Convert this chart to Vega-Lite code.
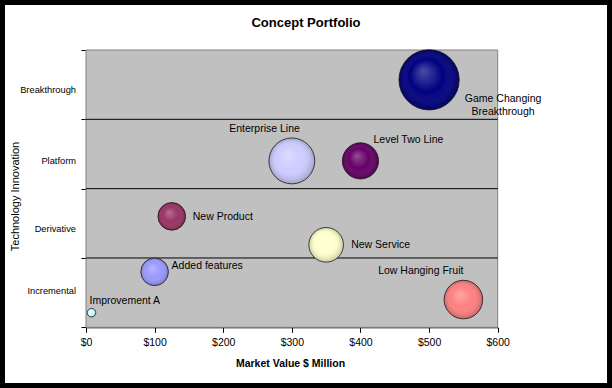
{
  "$schema": "https://vega.github.io/schema/vega-lite/v6.json",
  "width": 612,
  "height": 388,
  "autosize": {"type": "none"},
  "padding": 0,
  "background": "white",
  "config": {
    "view": {"fill": "white", "stroke": "black", "strokeWidth": 10},
    "font": "Liberation Sans",
    "text": {"font": "Liberation Sans", "color": "black"}
  },
  "title": {
    "text": "Concept Portfolio",
    "font": "Liberation Sans",
    "fontSize": 13,
    "fontWeight": "bold",
    "color": "black",
    "anchor": "middle",
    "frame": "group",
    "baseline": "middle",
    "offset": 0,
    "dy": 36
  },
  "layer": [
    {
      "data": {"values": [{"x0": 0, "x1": 600, "y0": 0, "y1": 4}]},
      "mark": {"type": "rect", "fill": "#C0C0C0", "stroke": "#808080", "strokeWidth": 1},
      "encoding": {
        "x": {"field": "x0", "type": "quantitative"},
        "x2": {"field": "x1"},
        "y": {"field": "y0", "type": "quantitative"},
        "y2": {"field": "y1"}
      }
    },
    {
      "data": {"values": [{"g": 1}, {"g": 2}, {"g": 3}]},
      "mark": {"type": "rule", "color": "black", "strokeWidth": 1},
      "encoding": {
        "y": {"field": "g", "type": "quantitative"},
        "x": {"datum": 0, "type": "quantitative"},
        "x2": {"datum": 600}
      }
    },
    {
      "data": {"values": [
        {"cat": "Breakthrough", "pos": 3.42},
        {"cat": "Platform", "pos": 2.4},
        {"cat": "Derivative", "pos": 1.42},
        {"cat": "Incremental", "pos": 0.52}
      ]},
      "mark": {"type": "text", "align": "right", "baseline": "middle", "fontSize": 9.3, "dx": -10},
      "encoding": {
        "y": {"field": "pos", "type": "quantitative"},
        "x": {"datum": 0, "type": "quantitative"},
        "text": {"field": "cat"}
      }
    },
    {
      "data": {"values": [
        {"concept": "Game Changing\nBreakthrough", "value": 500, "innovation": 3.57, "size": 100},
        {"concept": "Enterprise Line", "value": 300, "innovation": 2.4, "size": 58},
        {"concept": "Level Two Line", "value": 400, "innovation": 2.4, "size": 36},
        {"concept": "New Product", "value": 125, "innovation": 1.6, "size": 21},
        {"concept": "New Service", "value": 350, "innovation": 1.19, "size": 33},
        {"concept": "Added features", "value": 100, "innovation": 0.8, "size": 21},
        {"concept": "Low Hanging Fruit", "value": 550, "innovation": 0.4, "size": 41},
        {"concept": "Improvement A", "value": 8, "innovation": 0.21, "size": 2}
      ]},
      "encoding": {
        "x": {
          "field": "value", "type": "quantitative",
          "scale": {"domain": [0, 600], "range": [86, 497.7], "nice": false, "zero": false},
          "axis": {
            "title": "Market Value $ Million",
            "values": [0, 100, 200, 300, 400, 500, 600],
            "format": "$.0f",
            "offset": -60.7,
            "grid": false,
            "labelFlush": false,
            "labelOverlap": false,
            "domainColor": "black", "tickColor": "black", "tickSize": 5,
            "labelFont": "Liberation Sans", "labelFontSize": 10.5, "labelColor": "black", "labelPadding": 5,
            "titleFont": "Liberation Sans", "titleFontSize": 10.5, "titleFontWeight": "bold", "titleColor": "black",
            "titleX": 290, "titleY": 36, "titleBaseline": "middle", "titleAlign": "center"
          }
        },
        "y": {
          "field": "innovation", "type": "quantitative",
          "scale": {"domain": [0, 4], "range": [327.3, 50], "nice": false, "zero": false},
          "axis": {
            "title": "Technology Innovation",
            "values": [0, 1, 2, 3, 4],
            "labels": false,
            "offset": -86,
            "grid": false,
            "domainColor": "black", "tickColor": "black", "tickSize": 5,
            "titleFont": "Liberation Sans", "titleFontSize": 11, "titleFontWeight": "normal", "titleColor": "black",
            "titleX": -71, "titleY": 196, "titleAngle": 270, "titleBaseline": "middle", "titleAlign": "center"
          }
        }
      },
      "layer": [
        {
          "mark": {"type": "point", "shape": "circle", "filled": true, "opacity": 1},
          "encoding": {
            "size": {"field": "size", "type": "quantitative", "scale": {"domain": [0, 100], "range": [0, 3632]}, "legend": null},
            "color": {
              "field": "concept", "type": "nominal", "legend": null,
              "scale": {
                "domain": ["Game Changing\nBreakthrough", "Enterprise Line", "Level Two Line", "New Product", "New Service", "Added features", "Low Hanging Fruit", "Improvement A"],
                "range": ["#000080", "#CCCCFF", "#660066", "#993366", "#FFFFCC", "#9999FF", "#FF8080", "#CCFFFF"]
              }
            }
          }
        },
        {
          "mark": {
            "type": "point", "shape": "circle", "filled": true, "opacity": 1,
            "stroke": "#1a1a1a", "strokeWidth": 0.8,
            "fill": {
              "gradient": "radial",
              "x1": 0.4, "y1": 0.35, "r1": 0,
              "x2": 0.5, "y2": 0.5, "r2": 0.5,
              "stops": [
                {"offset": 0, "color": "rgba(255,255,255,0.3)"},
                {"offset": 0.55, "color": "rgba(255,255,255,0)"},
                {"offset": 1, "color": "rgba(0,0,0,0.22)"}
              ]
            }
          },
          "encoding": {
            "size": {"field": "size", "type": "quantitative", "scale": {"domain": [0, 100], "range": [0, 3632]}, "legend": null}
          }
        },
        {
          "transform": [{"filter": "datum.concept === 'Game Changing\\nBreakthrough'"}],
          "mark": {"type": "text", "align": "center", "baseline": "middle", "lineBreak": "\n", "lineHeight": 13, "fontSize": 10.5, "dx": 74, "dy": 19},
          "encoding": {"text": {"field": "concept"}}
        },
        {
          "transform": [{"filter": "datum.concept === 'Enterprise Line'"}],
          "mark": {"type": "text", "align": "right", "baseline": "middle", "fontSize": 10.5, "dx": 8, "dy": -32},
          "encoding": {"text": {"field": "concept"}}
        },
        {
          "transform": [{"filter": "datum.concept === 'Level Two Line'"}],
          "mark": {"type": "text", "align": "left", "baseline": "middle", "fontSize": 10.5, "dx": 13, "dy": -21},
          "encoding": {"text": {"field": "concept"}}
        },
        {
          "transform": [{"filter": "datum.concept === 'New Product'"}],
          "mark": {"type": "text", "align": "left", "baseline": "middle", "fontSize": 10.5, "dx": 21, "dy": 0.5},
          "encoding": {"text": {"field": "concept"}}
        },
        {
          "transform": [{"filter": "datum.concept === 'New Service'"}],
          "mark": {"type": "text", "align": "left", "baseline": "middle", "fontSize": 10.5, "dx": 25, "dy": 0},
          "encoding": {"text": {"field": "concept"}}
        },
        {
          "transform": [{"filter": "datum.concept === 'Added features'"}],
          "mark": {"type": "text", "align": "left", "baseline": "middle", "fontSize": 10.5, "dx": 17, "dy": -6},
          "encoding": {"text": {"field": "concept"}}
        },
        {
          "transform": [{"filter": "datum.concept === 'Low Hanging Fruit'"}],
          "mark": {"type": "text", "align": "right", "baseline": "middle", "fontSize": 10.5, "dx": 0, "dy": -29},
          "encoding": {"text": {"field": "concept"}}
        },
        {
          "transform": [{"filter": "datum.concept === 'Improvement A'"}],
          "mark": {"type": "text", "align": "left", "baseline": "middle", "fontSize": 10.5, "dx": -2, "dy": -12},
          "encoding": {"text": {"field": "concept"}}
        }
      ]
    }
  ]
}
